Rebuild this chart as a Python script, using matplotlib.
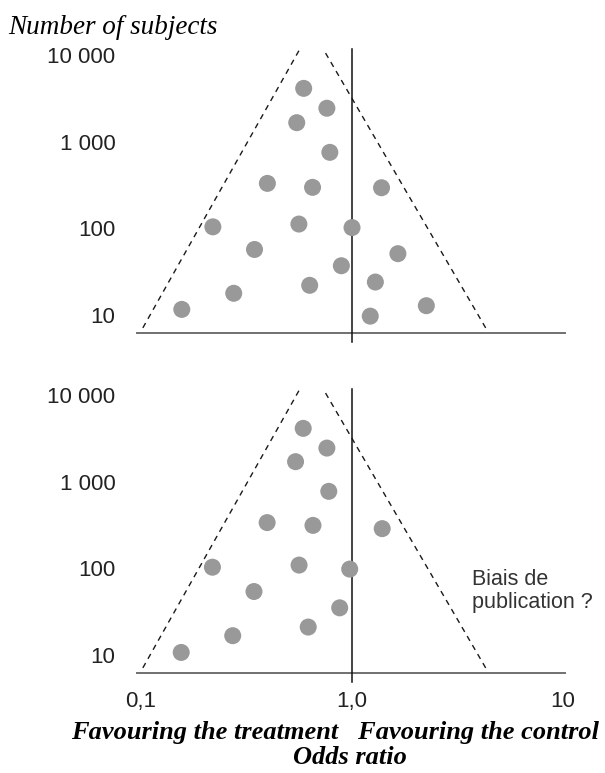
import matplotlib
matplotlib.use('Agg')
import matplotlib.pyplot as plt

# study results (odds ratio, number of subjects)
top_or = [0.59, 0.76, 0.547, 0.785, 0.397, 0.65, 1.38, 0.219, 0.56, 1.0,
          0.345, 1.65, 0.89, 0.63, 1.29, 0.275, 0.156, 1.22, 2.25]
top_n = [4120, 2430, 1656, 753, 330, 297, 294, 104, 112, 102,
         57, 51, 37, 22, 24, 17.8, 11.6, 9.7, 12.8]

bot_or = [0.587, 0.76, 0.54, 0.776, 0.396, 0.653, 1.39, 0.218, 0.561, 0.975,
          0.343, 0.874, 0.62, 0.272, 0.155]
bot_n = [4120, 2440, 1700, 773, 337, 313, 287, 103, 109, 98,
         54, 35, 21, 16.7, 10.7]

# funnel limits (dashed), as (odds ratio, subjects) pairs bottom -> top
funnel_left_or = [0.102, 0.56]
funnel_right_or = [4.3, 0.738]
funnel_n = [7.1, 11200]

# drawn axes
axis_or = [0.096, 10.2]
axis_n = 6.15
null_or = 1.0
null_n = [4.9, 11600]

ytick_vals = [10, 100, 1000, 10000]
ytick_labels = ['10', '100', '1 000', '10 000']
xtick_vals = [0.1, 1.0, 10]
xtick_labels = ['0,1', '1,0', '10']

W, H = 605, 773
fig = plt.figure(figsize=(W / 100, H / 100), dpi=100)

xlim = (10 ** -1.076, 10 ** 1.199)
ylim = (10 ** 0.596, 10 ** 4.173)

ax1 = fig.add_axes([125 / W, (H - 350) / H, 480 / W, 310 / H])
ax2 = fig.add_axes([125 / W, (H - 690) / H, 480 / W, 310 / H])

for ax, xs, ns in [(ax1, top_or, top_n), (ax2, bot_or, bot_n)]:
    ax.set_xscale('log')
    ax.set_yscale('log')
    ax.set_xlim(*xlim)
    ax.set_ylim(*ylim)
    for s in ax.spines.values():
        s.set_visible(False)
    ax.plot(funnel_left_or, funnel_n, color='#1a1a1a', lw=1.0, ls=(0, (4, 3.5)))
    ax.plot(funnel_right_or, funnel_n, color='#1a1a1a', lw=1.0, ls=(0, (4, 3.5)))
    ax.plot(axis_or, [axis_n, axis_n], color='#707070', lw=1.4)
    ax.plot([null_or, null_or], null_n, color='#111111', lw=1.1)
    ax.scatter(xs, ns, s=150, color='#999999', edgecolors='none', zorder=3)
    ax.set_yticks(ytick_vals)
    ax.set_yticklabels(ytick_labels, fontsize=16, family='Liberation Sans',
                       color='#222222')
    ax.yaxis.set_minor_locator(matplotlib.ticker.NullLocator())
    ax.xaxis.set_minor_locator(matplotlib.ticker.NullLocator())
    ax.tick_params(axis='y', length=0, pad=7)
    ax.tick_params(axis='x', length=0, pad=1)

ax1.set_xticks([])
ax2.set_xticks(xtick_vals)
ax2.set_xticklabels(xtick_labels, fontsize=16, family='Liberation Sans',
                    color='#222222')

ax2.text(3.7, 55, 'Biais de\npublication ?', fontsize=15.5,
         family='Liberation Sans', color='#333333', ha='left', va='center',
         linespacing=1.15)

fig.text(8 / W, 1 - 27 / H, 'Number of subjects', fontsize=19.5,
         family='Liberation Serif', style='italic', ha='left', va='center')
fig.text(335 / W, 1 - 732 / H, 'Favouring the treatment   Favouring the control',
         fontsize=19, family='Liberation Serif', style='italic',
         weight='bold', ha='center', va='center')
fig.text(350 / W, 1 - 757 / H, 'Odds ratio', fontsize=19,
         family='Liberation Serif', style='italic', weight='bold',
         ha='center', va='center')

fig.savefig('out.png', dpi=100)
